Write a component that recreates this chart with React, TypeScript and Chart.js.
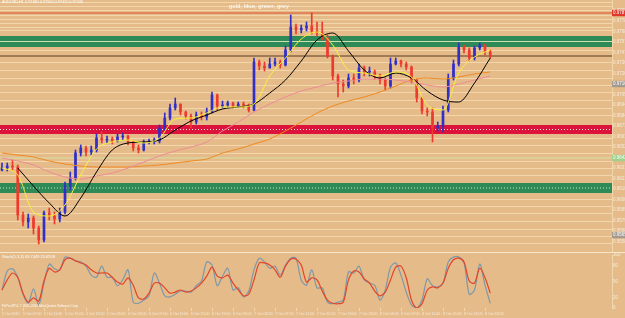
import React, { useEffect, useRef } from 'react';
import { Chart, registerables } from 'chart.js';

Chart.register(...registerables);

// ---------- texts ----------
const symbolHeader = 'AUDUSD,H1  0.97480 0.97500 0.97420 0.97440';
const chartTitle = 'gold, blue, green, grey';
const stochHeader = 'Stoch(5,3,3) 63.7449 23.6558';
const copyright = 'FxPro MT4, © 2001-2010 MetaQuotes Software Corp.';

// ---------- price bars (H1) ----------
const firstOpen = 0.963;
const closes = [
  0.9632, 0.9634, 0.9633, 0.9585, 0.9578, 0.9582, 0.9572, 0.956, 0.9587, 0.9584,
  0.9581, 0.9588, 0.9614, 0.9622, 0.9647, 0.9652, 0.9648, 0.965, 0.9662, 0.966,
  0.9661, 0.9659, 0.9663, 0.9664, 0.9658, 0.9652, 0.965, 0.9658, 0.9659, 0.9659,
  0.9672, 0.9682, 0.9692, 0.9696, 0.9688, 0.9684, 0.9678, 0.9685, 0.9683, 0.9688,
  0.9705, 0.9694, 0.9695, 0.9697, 0.9694, 0.9696, 0.9695, 0.969, 0.9738, 0.9734,
  0.9732, 0.9736, 0.9738, 0.9735, 0.975, 0.9773, 0.977, 0.9772, 0.9774, 0.9769,
  0.9767, 0.9762, 0.9744, 0.9724, 0.9716, 0.9714, 0.9722, 0.972, 0.9732, 0.9728,
  0.9728, 0.9725, 0.972, 0.9714, 0.9736, 0.9739, 0.9736, 0.9733, 0.972, 0.9702,
  0.9689, 0.9688, 0.9672, 0.9674, 0.969, 0.9722, 0.9736, 0.9753, 0.975, 0.9742,
  0.9752, 0.9755, 0.9748, 0.9744,
];
const highs = [
  0.9637, 0.9637, 0.964, 0.9635, 0.9588, 0.9586, 0.9584, 0.9574, 0.9589, 0.9592,
  0.9588, 0.9592, 0.9618, 0.9628, 0.965, 0.9655, 0.9654, 0.9654, 0.9666, 0.9668,
  0.9664, 0.9663, 0.9666, 0.9667, 0.9665, 0.9659, 0.9655, 0.966, 0.9661, 0.9662,
  0.9675, 0.9687, 0.9696, 0.9702, 0.9696, 0.9689, 0.9686, 0.9688, 0.9688, 0.9692,
  0.9708, 0.9706, 0.9699, 0.9699, 0.9698, 0.9698, 0.9698, 0.9696, 0.9742, 0.974,
  0.9738, 0.9742, 0.9742, 0.974, 0.9754, 0.9785, 0.9776, 0.9775, 0.9778, 0.9787,
  0.9778, 0.9778, 0.9765, 0.9745, 0.9726, 0.972, 0.9726, 0.9726, 0.9736, 0.9734,
  0.9733, 0.973, 0.9726, 0.9722, 0.9742, 0.9742, 0.974, 0.9738, 0.9734, 0.9721,
  0.9703, 0.9692, 0.9692, 0.9678, 0.9694, 0.9726, 0.974, 0.9757, 0.9755, 0.9752,
  0.9754, 0.9757, 0.9756, 0.975,
];
const lows = [
  0.9629, 0.9629, 0.963, 0.958, 0.9574, 0.9572, 0.9566, 0.9556, 0.9558, 0.958,
  0.9576, 0.9578, 0.9586, 0.961, 0.962, 0.9644, 0.9644, 0.9645, 0.9648, 0.9657,
  0.9657, 0.9656, 0.9658, 0.966, 0.9655, 0.9649, 0.9647, 0.9649, 0.9656, 0.9656,
  0.9657, 0.967, 0.968, 0.969, 0.9685, 0.9681, 0.9672, 0.9676, 0.968, 0.968,
  0.9687, 0.969, 0.9692, 0.9693, 0.9692, 0.9693, 0.9692, 0.9688, 0.9689, 0.973,
  0.9729, 0.9732, 0.9734, 0.9732, 0.9734, 0.9748, 0.9766, 0.9767, 0.9769, 0.9766,
  0.9764, 0.976, 0.9742, 0.972, 0.9703, 0.9708, 0.9712, 0.9716, 0.9718, 0.9724,
  0.9724, 0.9721, 0.9716, 0.971, 0.9712, 0.9735, 0.9733, 0.973, 0.9717, 0.9698,
  0.9686, 0.9684, 0.9658, 0.9669, 0.9668, 0.9688, 0.972, 0.9734, 0.9747, 0.9739,
  0.974, 0.975, 0.9745, 0.9742,
];

// ---------- moving averages (sampled every 3 bars) ----------
const maBars = [0, 3, 6, 9, 12, 15, 18, 21, 24, 27, 30, 33, 36, 39, 42, 45, 48, 51, 54, 57, 60, 63, 66, 69, 72, 75, 78, 81, 84, 87, 90, 93];
const yellowMA = [0.9632, 0.9625, 0.9588, 0.9584, 0.9595, 0.9625, 0.9651, 0.9658, 0.966, 0.9657, 0.9662, 0.9681, 0.9682, 0.9687, 0.9693, 0.9693, 0.9696, 0.9724, 0.9742, 0.9761, 0.9768, 0.9755, 0.973, 0.9727, 0.9724, 0.9728, 0.9723, 0.9695, 0.969, 0.9727, 0.9743, 0.975];
const blackMA = [null, 0.9632, 0.9614, 0.9597, 0.9584, 0.9602, 0.9628, 0.965, 0.9657, 0.9658, 0.966, 0.967, 0.9679, 0.9685, 0.9691, 0.9693, 0.9696, 0.9707, 0.972, 0.9739, 0.976, 0.9767, 0.9749, 0.973, 0.9722, 0.9727, 0.9722, 0.9709, 0.97, 0.9698, 0.9717, 0.9742];
const pinkMA = [0.9642, 0.9639, 0.9635, 0.9628, 0.9623, 0.9621, 0.9624, 0.9627, 0.9632, 0.9638, 0.9644, 0.9649, 0.9653, 0.9658, 0.9669, 0.9678, 0.9688, 0.9696, 0.9703, 0.9709, 0.9713, 0.9717, 0.9719, 0.9721, 0.9721, 0.972, 0.9718, 0.9715, 0.9713, 0.9716, 0.972, 0.9724];
const orangeMA = [0.9647, 0.9645, 0.9643, 0.9639, 0.9636, 0.9634, 0.9633, 0.9633, 0.9633, 0.9634, 0.9635, 0.9637, 0.9639, 0.9641, 0.9647, 0.9651, 0.9656, 0.9661, 0.9669, 0.9678, 0.9687, 0.9694, 0.9699, 0.9703, 0.9708, 0.9714, 0.972, 0.9722, 0.9721, 0.9723, 0.9726, 0.9728];

// ---------- stochastic ----------
const stochK = [
  34, 70, 74, 58, 26, 9, 36, 6, 47, 83,
  74, 72, 96, 94, 89, 87, 79, 62, 58, 79,
  58, 58, 42, 53, 72, 11, 9, 15, 23, 66,
  47, 23, 21, 26, 32, 32, 30, 42, 51, 87,
  81, 42, 60, 75, 34, 38, 21, 32, 72, 94,
  87, 75, 79, 62, 81, 94, 94, 53, 43, 72,
  38, 38, 11, 8, 11, 15, 68, 66, 79, 53,
  47, 43, 15, 34, 77, 85, 62, 30, 6, 0,
  15, 55, 42, 40, 47, 87, 96, 96, 85, 26,
  34, 83, 43, 9,
];
const stochD = [
  34, 53, 66, 58, 28, 11, 19, 13, 51, 75,
  68, 72, 91, 94, 89, 85, 81, 72, 66, 66,
  66, 58, 49, 45, 57, 43, 19, 17, 28, 47,
  47, 38, 28, 30, 34, 30, 32, 38, 47, 60,
  77, 60, 57, 62, 47, 34, 23, 26, 53, 85,
  85, 81, 72, 58, 79, 92, 92, 81, 49, 57,
  53, 32, 15, 9, 8, 11, 53, 70, 68, 55,
  47, 32, 23, 30, 53, 77, 79, 57, 15, 0,
  8, 34, 40, 38, 47, 75, 91, 94, 87, 51,
  47, 75, 57, 28,
];
const stochTicks = [0, 20, 50, 80, 100];

// ---------- time axis ----------
const labelBars = [0, 4, 8, 12, 16, 20, 24, 28, 32, 36, 40, 44, 48, 52, 56, 60, 64, 68, 72, 76, 80, 84, 88, 92];
const timeLabels = [
  '5 Oct 2010', '5 Oct 07:00', '5 Oct 11:00', '5 Oct 15:00', '5 Oct 19:00', '5 Oct 23:00',
  '6 Oct 03:00', '6 Oct 07:00', '6 Oct 11:00', '6 Oct 15:00', '6 Oct 19:00', '6 Oct 23:00',
  '7 Oct 03:00', '7 Oct 07:00', '7 Oct 11:00', '7 Oct 15:00', '7 Oct 19:00', '7 Oct 23:00',
  '8 Oct 03:00', '8 Oct 07:00', '8 Oct 11:00', '8 Oct 15:00', '8 Oct 19:00', '8 Oct 23:00',
];

// ---------- price axis / levels ----------
const priceTicks = [
  0.97893, 0.97788, 0.97683, 0.97578, 0.97473, 0.97368, 0.97263, 0.97158, 0.97053, 0.96948,
  0.96843, 0.96738, 0.96633, 0.96528, 0.96423, 0.96318, 0.96213, 0.96108, 0.96003, 0.95898,
  0.95793, 0.95688, 0.95583,
];
const levelLines = [
  0.97975, 0.97935, 0.979, 0.97845, 0.97805, 0.97765, 0.97725, 0.9769, 0.9749, 0.9737,
  0.97295, 0.9722, 0.97145, 0.9707, 0.96995, 0.9692, 0.96845, 0.9662, 0.9654, 0.96465,
  0.9639, 0.96315, 0.9624, 0.9601, 0.95935, 0.9586, 0.95785, 0.9571, 0.95635, 0.9556,
];
const greenZoneUpper = [0.9764, 0.9753];
const greenZoneUpperMid = 0.97585;
const redZone = [0.9675, 0.9666];
const redZoneMid = 0.96705;
const greenZoneLower = [0.9617, 0.9607];
const greenZoneLowerMid = 0.9612;
const highLine = 0.9787;
const pivotLine = 0.9642;
const markerValues = [0.9787, 0.9716, 0.9642, 0.9565];
const markerColors = ['#E2372B', '#A39A90', '#9FD18C', '#A39A90'];

// ---------- styling ----------
const X_MIN = -0.381;
const X_MAX = 116.19;
const Y_MIN = 0.9548;
const Y_MAX = 0.98;
const BG = '#E5BB89';
const PALE = '#F2D7AC';
const AXIS_TEXT = '#F6EBDD';
const BULL = '#3030C8';
const BEAR = '#EE3A2E';
const GREEN = '#2E8B57';
const RED = '#DC143C';
const FONT = '"Liberation Sans", Arial, sans-serif';

const opens = closes.map((c, i) => (i === 0 ? firstOpen : closes[i - 1]));
const candleColors = closes.map((c, i) => (c >= opens[i] ? BULL : BEAR));

function flat(v: number) {
  return [
    { x: X_MIN, y: v },
    { x: X_MAX, y: v },
  ];
}
function hLine(v: number, color: string, width: number, dash: number[], order: number) {
  return {
    type: 'line',
    data: flat(v),
    borderColor: color,
    borderWidth: width,
    borderDash: dash,
    pointRadius: 0,
    fill: false,
    order,
    xAxisID: 'x',
    yAxisID: 'y',
  };
}
function zone(range: number[], color: string, order: number) {
  return {
    type: 'line',
    data: flat(range[0]),
    borderWidth: 0,
    borderColor: 'rgba(0,0,0,0)',
    backgroundColor: color,
    pointRadius: 0,
    fill: { value: range[1] },
    order,
    xAxisID: 'x',
    yAxisID: 'y',
  };
}
function maLine(vals: (number | null)[], color: string, order: number) {
  return {
    type: 'line',
    data: vals.map((v, i) => ({ x: maBars[i], y: v })),
    borderColor: color,
    borderWidth: 1,
    pointRadius: 0,
    fill: false,
    cubicInterpolationMode: 'monotone',
    order,
    xAxisID: 'x',
    yAxisID: 'y',
  };
}

export default function App() {
  const mainRef = useRef<HTMLCanvasElement>(null);
  const stochRef = useRef<HTMLCanvasElement>(null);

  useEffect(() => {
    const main = new Chart(mainRef.current as HTMLCanvasElement, {
      type: 'bar',
      data: {
        datasets: [
          zone(greenZoneUpper, GREEN, 40),
          hLine(greenZoneUpperMid, '#CFE0B4', 1.2, [], 39),
          zone(redZone, RED, 40),
          hLine(redZoneMid, 'rgba(255,255,255,0.9)', 1, [1, 2], 39),
          zone(greenZoneLower, GREEN, 40),
          hLine(greenZoneLowerMid, 'rgba(225,240,200,0.9)', 1, [1, 2], 39),
          hLine(highLine, '#E0502E', 1, [], 38),
          hLine(pivotLine, '#D3E2A8', 1, [], 38),
          hLine(closes[closes.length - 1], '#5A3A1E', 1, [], 38),
          {
            type: 'bar',
            data: closes.map((c, i) => ({ x: i, y: [lows[i], highs[i]] })),
            backgroundColor: candleColors,
            barThickness: 1,
            grouped: false,
            borderWidth: 0,
            order: 20,
            xAxisID: 'x',
            yAxisID: 'y',
          },
          {
            type: 'bar',
            data: closes.map((c, i) => ({ x: i, y: [opens[i], c] })),
            backgroundColor: candleColors,
            barThickness: 2,
            minBarLength: 1,
            grouped: false,
            borderWidth: 0,
            order: 19,
            xAxisID: 'x',
            yAxisID: 'y',
          },
          maLine(orangeMA, '#EE8A22', 4),
          maLine(pinkMA, '#EC8C98', 3),
          maLine(blackMA, '#000000', 2),
          maLine(yellowMA, '#F6F23C', 1),
        ] as any,
      },
      options: {
        responsive: false,
        animation: false,
        devicePixelRatio: 1,
        events: [],
        layout: { padding: 0 },
        plugins: { legend: { display: false }, tooltip: { enabled: false }, title: { display: false } },
        scales: {
          x: { type: 'linear', min: X_MIN, max: X_MAX, display: false, offset: false },
          y: {
            type: 'linear',
            position: 'right',
            min: Y_MIN,
            max: Y_MAX,
            afterBuildTicks: (s: any) => {
              s.ticks = levelLines.map((v) => ({ value: v }));
            },
            afterFit: (s: any) => {
              s.width = 0;
              s.paddingTop = 0;
              s.paddingBottom = 0;
            },
            ticks: { display: false },
            grid: { color: PALE, lineWidth: 1, drawTicks: false },
            border: { display: false },
          },
          y2: {
            type: 'linear',
            position: 'right',
            min: Y_MIN,
            max: Y_MAX,
            afterBuildTicks: (s: any) => {
              s.ticks = [...priceTicks, ...markerValues].map((v) => ({ value: v }));
            },
            afterFit: (s: any) => {
              s.width = 13;
              s.paddingTop = 0;
              s.paddingBottom = 0;
            },
            grid: { display: false, drawTicks: false },
            border: { display: true, color: PALE, width: 1 },
            ticks: {
              autoSkip: false,
              padding: 1,
              font: { size: 4.5, family: FONT },
              color: (ctx: any) => (markerValues.indexOf(ctx.tick && ctx.tick.value) >= 0 ? '#FFFFFF' : AXIS_TEXT),
              showLabelBackdrop: true,
              backdropPadding: { x: 1, y: 0.5 },
              backdropColor: (ctx: any) => {
                const k = markerValues.indexOf(ctx.tick && ctx.tick.value);
                return k >= 0 ? markerColors[k] : 'rgba(0,0,0,0)';
              },
              callback: (v: any) => Number(v).toFixed(5),
            },
          },
        },
      } as any,
    });

    const stoch = new Chart(stochRef.current as HTMLCanvasElement, {
      type: 'line',
      data: {
        datasets: [
          {
            data: stochK.map((v, i) => ({ x: i, y: v })),
            borderColor: '#7E98AA',
            borderWidth: 1.2,
            pointRadius: 0,
            fill: false,
            tension: 0.3,
            order: 2,
          },
          {
            data: stochD.map((v, i) => ({ x: i, y: v })),
            borderColor: '#E2452A',
            borderWidth: 1.2,
            pointRadius: 0,
            fill: false,
            tension: 0.3,
            order: 1,
          },
        ] as any,
      },
      options: {
        responsive: false,
        animation: false,
        devicePixelRatio: 1,
        events: [],
        layout: { padding: { top: 2, left: 0, right: 0, bottom: 0 } },
        plugins: { legend: { display: false }, tooltip: { enabled: false } },
        scales: {
          x: {
            type: 'linear',
            min: X_MIN,
            max: X_MAX,
            position: 'bottom',
            offset: false,
            afterBuildTicks: (s: any) => {
              s.ticks = labelBars.map((v) => ({ value: v }));
            },
            afterFit: (s: any) => {
              s.height = 10;
              s.paddingLeft = 0;
              s.paddingRight = 0;
            },
            ticks: {
              autoSkip: false,
              maxRotation: 0,
              minRotation: 0,
              align: 'start',
              padding: 1,
              font: { size: 3.6, family: FONT },
              color: AXIS_TEXT,
              callback: (v: any) => {
                const k = labelBars.indexOf(Number(v));
                return k >= 0 ? timeLabels[k] : '';
              },
            },
            grid: { display: true, drawOnChartArea: false, drawTicks: true, tickLength: 3, color: PALE },
            border: { display: false },
          },
          y: {
            type: 'linear',
            position: 'right',
            min: 0,
            max: 100,
            afterBuildTicks: (s: any) => {
              s.ticks = stochTicks.map((v) => ({ value: v }));
            },
            afterFit: (s: any) => {
              s.width = 13;
              s.paddingTop = 0;
              s.paddingBottom = 0;
            },
            ticks: { autoSkip: false, padding: 1, font: { size: 4.5, family: FONT }, color: AXIS_TEXT },
            grid: { display: false, drawTicks: false },
            border: { display: true, color: PALE, width: 1 },
          },
        },
      } as any,
    });

    return () => {
      main.destroy();
      stoch.destroy();
    };
  }, []);

  const txt = (extra: React.CSSProperties): React.CSSProperties => ({
    position: 'absolute',
    whiteSpace: 'nowrap',
    lineHeight: 1,
    color: '#FFFFFF',
    fontFamily: FONT,
    pointerEvents: 'none',
    ...extra,
  });

  return (
    <div
      style={{
        position: 'fixed',
        left: 0,
        top: 0,
        width: 625,
        height: 318,
        background: BG,
        overflow: 'hidden',
      }}
    >
      <canvas ref={mainRef} width={625} height={252} style={{ position: 'absolute', left: 0, top: 0 }} />
      <div style={{ position: 'absolute', left: 0, top: 252, width: 625, height: 1, background: '#F8E6C8' }} />
      <canvas ref={stochRef} width={625} height={65} style={{ position: 'absolute', left: 0, top: 253 }} />
      <div style={txt({ left: 2, top: 1, fontSize: 3.8 })}>{symbolHeader}</div>
      <div style={txt({ left: 229, top: 3, fontSize: 6 })}>{chartTitle}</div>
      <div style={txt({ left: 2, top: 255, fontSize: 4 })}>{stochHeader}</div>
      <div style={txt({ left: 2, top: 305, fontSize: 3.2 })}>{copyright}</div>
    </div>
  );
}
